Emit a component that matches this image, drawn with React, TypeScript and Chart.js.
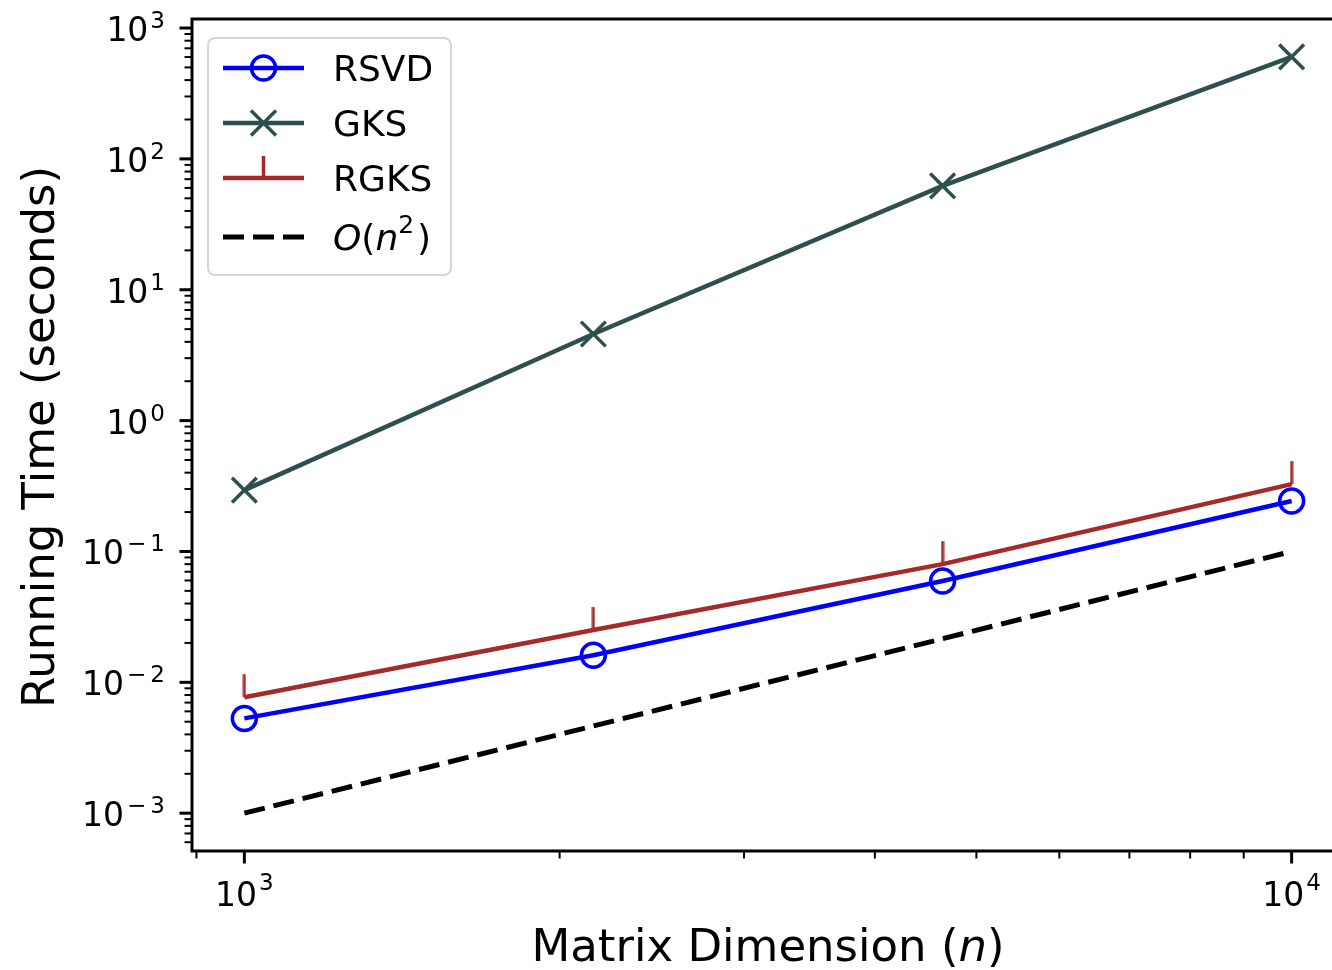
import React, { useEffect, useRef } from "react";
import { Chart, registerables } from "chart.js";

Chart.register(...registerables);

// ---- data ----
const matrixSizes = [1000, 2154, 4642, 10000];
const rsvdTimes = [0.0053, 0.0161, 0.0594, 0.243];
const gksTimes = [0.294, 4.59, 62.2, 602];
const rgksTimes = [0.0077, 0.0251, 0.08, 0.327];
const refSizes = [1000, 10000];
const refTimes = [0.001, 0.1];

const seriesNames = ["RSVD", "GKS", "RGKS", "O(n^2)"];

// ---- axis ticks ----
const xMajorTicks = [1000, 10000];
const xTickExponents = ["3", "4"];
const xMinorTicks = [900, 2000, 3000, 4000, 5000, 6000, 7000, 8000, 9000];
const yMajorTicks = [1e-3, 1e-2, 1e-1, 1, 10, 100, 1000];
const yTickExponents = ["-3", "-2", "-1", "0", "1", "2", "3"];
const yMinorDecades = [1e-4, 1e-3, 1e-2, 1e-1, 1, 10, 100];
const minorMultipliers = [2, 3, 4, 5, 6, 7, 8, 9];

const X_MIN = Math.pow(10, 2.95);
const X_MAX = Math.pow(10, 4.05);
const Y_MIN = Math.pow(10, -3.289);
const Y_MAX = Math.pow(10, 3.069);

const FONT = "'DejaVu Sans', 'Liberation Sans', sans-serif";
const CANVAS_W = 1360;
const CANVAS_H = 970;

const COLORS = { rsvd: "#0000ff", gks: "#2f4f4f", rgks: "#a52a2a", ref: "#000000" };

function makeTickUp(color: string) {
  const c = document.createElement("canvas");
  c.width = 4;
  c.height = 48;
  const g = c.getContext("2d")!;
  g.fillStyle = color;
  g.fillRect(0.5, 1, 3, 23);
  return c;
}

function drawPow(
  ctx: CanvasRenderingContext2D,
  exp: string,
  x: number,
  baseY: number,
  supY: number,
  align: "center" | "right",
) {
  const baseFont = `33px ${FONT}`;
  const supFont = `23px ${FONT}`;
  const neg = exp.startsWith("-");
  const digits = neg ? exp.slice(1) : exp;
  ctx.font = baseFont;
  const wb = ctx.measureText("10").width;
  ctx.font = supFont;
  const wm = neg ? ctx.measureText("\u2212").width + 5 : 0;
  const wd = ctx.measureText(digits).width;
  const gap = 2;
  const total = wb + gap + wm + wd;
  const left = align === "center" ? x - total / 2 : x - total;
  ctx.textAlign = "left";
  ctx.textBaseline = "alphabetic";
  ctx.font = baseFont;
  ctx.fillText("10", left, baseY);
  ctx.font = supFont;
  if (neg) ctx.fillText("\u2212", left + wb + gap + 1, supY);
  ctx.fillText(digits, left + wb + gap + wm, supY);
}

const axesPlugin = {
  id: "mplAxes",
  afterDraw(chart: any) {
    const { ctx, chartArea: a, scales } = chart;
    const xs = scales.x;
    const ys = scales.y;
    ctx.save();
    ctx.fillStyle = "#000";
    ctx.strokeStyle = "#000";

    // spines (right spine lies outside the visible page)
    ctx.lineWidth = 3;
    ctx.lineJoin = "miter";
    ctx.beginPath();
    ctx.moveTo(a.right, a.top);
    ctx.lineTo(a.left, a.top);
    ctx.lineTo(a.left, a.bottom);
    ctx.lineTo(a.right, a.bottom);
    ctx.stroke();

    const tick = (x1: number, y1: number, x2: number, y2: number, w: number) => {
      ctx.lineWidth = w;
      ctx.beginPath();
      ctx.moveTo(x1, y1);
      ctx.lineTo(x2, y2);
      ctx.stroke();
    };
    xMinorTicks.forEach((v) => {
      const px = xs.getPixelForValue(v);
      tick(px, a.bottom, px, a.bottom + 7.5, 2);
    });
    xMajorTicks.forEach((v, i) => {
      const px = xs.getPixelForValue(v);
      tick(px, a.bottom, px, a.bottom + 12.5, 3);
      drawPow(ctx, xTickExponents[i], px, a.bottom + 55, a.bottom + 39, "center");
    });

    yMinorDecades.forEach((d) => {
      minorMultipliers.forEach((m) => {
        const v = d * m;
        if (v < Y_MIN || v > Y_MAX) return;
        const py = ys.getPixelForValue(v);
        tick(a.left, py, a.left - 7.5, py, 2);
      });
    });
    yMajorTicks.forEach((v, i) => {
      const py = ys.getPixelForValue(v);
      tick(a.left, py, a.left - 12.5, py, 3);
      drawPow(ctx, yTickExponents[i], 165, py + 13, py, "right");
    });

    // axis titles
    ctx.textBaseline = "alphabetic";
    const xTitleParts: [string, boolean][] = [["Matrix Dimension (", false], ["n", true], [")", false]];
    const partFont = (it: boolean) => `${it ? "italic " : ""}45px ${FONT}`;
    let total = 0;
    xTitleParts.forEach(([t, it]) => {
      ctx.font = partFont(it);
      total += ctx.measureText(t).width;
    });
    let cx = (a.left + a.right) / 2 - total / 2;
    ctx.textAlign = "left";
    xTitleParts.forEach(([t, it]) => {
      ctx.font = partFont(it);
      ctx.fillText(t, cx, 961);
      cx += ctx.measureText(t).width;
    });

    ctx.save();
    ctx.translate(54, (a.top + a.bottom) / 2 + 2);
    ctx.rotate(-Math.PI / 2);
    ctx.font = `45px ${FONT}`;
    ctx.textAlign = "center";
    ctx.fillText("Running Time (seconds)", 0, 0);
    ctx.restore();

    // legend
    const bx = 208, by = 38, bw = 243, bh = 237, r = 7;
    ctx.beginPath();
    ctx.moveTo(bx + r, by);
    ctx.arcTo(bx + bw, by, bx + bw, by + bh, r);
    ctx.arcTo(bx + bw, by + bh, bx, by + bh, r);
    ctx.arcTo(bx, by + bh, bx, by, r);
    ctx.arcTo(bx, by, bx + bw, by, r);
    ctx.closePath();
    ctx.fillStyle = "rgba(255,255,255,0.8)";
    ctx.fill();
    ctx.strokeStyle = "rgba(204,204,204,0.8)";
    ctx.lineWidth = 2;
    ctx.stroke();

    const rowsY = [68, 123, 178, 237];
    const lx1 = 223, lx2 = 304, lmx = (lx1 + lx2) / 2, tx = 333;
    const ds = chart.data.datasets;
    rowsY.forEach((ry, i) => {
      const d = ds[i];
      ctx.strokeStyle = d.borderColor;
      ctx.lineWidth = d.borderWidth;
      ctx.setLineDash(d.borderDash || []);
      ctx.beginPath();
      ctx.moveTo(lx1, ry);
      ctx.lineTo(lx2, ry);
      ctx.stroke();
      ctx.setLineDash([]);
      ctx.lineWidth = 3.5;
      if (i === 0) {
        ctx.beginPath();
        ctx.arc(lmx, ry, 12, 0, Math.PI * 2);
        ctx.stroke();
      } else if (i === 1) {
        const h = 12.5;
        ctx.beginPath();
        ctx.moveTo(lmx - h, ry - h);
        ctx.lineTo(lmx + h, ry + h);
        ctx.moveTo(lmx + h, ry - h);
        ctx.lineTo(lmx - h, ry + h);
        ctx.stroke();
      } else if (i === 2) {
        ctx.beginPath();
        ctx.moveTo(lmx, ry);
        ctx.lineTo(lmx, ry - 22);
        ctx.stroke();
      }
      ctx.fillStyle = "#000";
      ctx.textAlign = "left";
      ctx.textBaseline = "alphabetic";
      if (i < 3) {
        ctx.font = `36px ${FONT}`;
        ctx.fillText(seriesNames[i], tx, ry + 13);
      } else {
        const parts: [string, boolean, boolean][] = [
          ["O", true, false],
          ["(", false, false],
          ["n", true, false],
          ["2", false, true],
          [")", false, false],
        ];
        let px = tx;
        parts.forEach(([t, it, sup]) => {
          ctx.font = `${it ? "italic " : ""}${sup ? 25 : 36}px ${FONT}`;
          ctx.fillText(t, px, sup ? ry - 4 : ry + 13);
          px += ctx.measureText(t).width + (sup ? 3 : 0);
        });
      }
    });

    ctx.restore();
  },
};

export default function App() {
  const ref = useRef<HTMLCanvasElement | null>(null);

  useEffect(() => {
    if (!ref.current) return;
    const pts = (xs: number[], ys: number[]) => xs.map((x, i) => ({ x, y: ys[i] }));
    const chart = new Chart(ref.current, {
      type: "scatter",
      data: {
        datasets: [
          {
            label: seriesNames[0],
            data: pts(matrixSizes, rsvdTimes),
            showLine: true,
            borderColor: COLORS.rsvd,
            borderWidth: 4.5,
            pointStyle: "circle",
            pointRadius: 12,
            pointHoverRadius: 12,
            pointBorderWidth: 3.5,
            pointBorderColor: COLORS.rsvd,
            pointBackgroundColor: "rgba(0,0,0,0)",
            order: 4,
          },
          {
            label: seriesNames[1],
            data: pts(matrixSizes, gksTimes),
            showLine: true,
            borderColor: COLORS.gks,
            borderWidth: 4.5,
            pointStyle: "crossRot",
            pointRadius: 17.5,
            pointHoverRadius: 17.5,
            pointBorderWidth: 3.5,
            pointBorderColor: COLORS.gks,
            pointBackgroundColor: COLORS.gks,
            order: 3,
          },
          {
            label: seriesNames[2],
            data: pts(matrixSizes, rgksTimes),
            showLine: true,
            borderColor: COLORS.rgks,
            borderWidth: 4.5,
            pointStyle: makeTickUp(COLORS.rgks) as any,
            pointRadius: 12,
            pointHoverRadius: 12,
            order: 2,
          },
          {
            label: seriesNames[3],
            data: pts(refSizes, refTimes),
            showLine: true,
            borderColor: COLORS.ref,
            borderWidth: 5,
            borderDash: [21, 9],
            pointRadius: 0,
            pointHoverRadius: 0,
            order: 1,
          },
        ],
      },
      options: {
        responsive: false,
        animation: false,
        devicePixelRatio: 1,
        events: [],
        layout: {
          autoPadding: false,
          padding: { left: 192, top: 19, right: CANVAS_W - 1344, bottom: CANVAS_H - 851 },
        },
        plugins: {
          legend: { display: false },
          tooltip: { enabled: false },
          title: { display: false },
        },
        scales: {
          x: {
            type: "logarithmic",
            min: X_MIN,
            max: X_MAX,
            grid: { display: false, drawTicks: false },
            border: { display: false },
            ticks: { display: false },
          },
          y: {
            type: "logarithmic",
            min: Y_MIN,
            max: Y_MAX,
            grid: { display: false, drawTicks: false },
            border: { display: false },
            ticks: { display: false },
          },
        },
      },
      plugins: [axesPlugin],
    });
    return () => chart.destroy();
  }, []);

  return (
    <div
      style={{
        position: "fixed",
        left: 0,
        top: 0,
        width: 1332,
        height: 970,
        overflow: "hidden",
        background: "#fff",
      }}
    >
      <canvas ref={ref} width={CANVAS_W} height={CANVAS_H} style={{ display: "block" }} />
    </div>
  );
}
